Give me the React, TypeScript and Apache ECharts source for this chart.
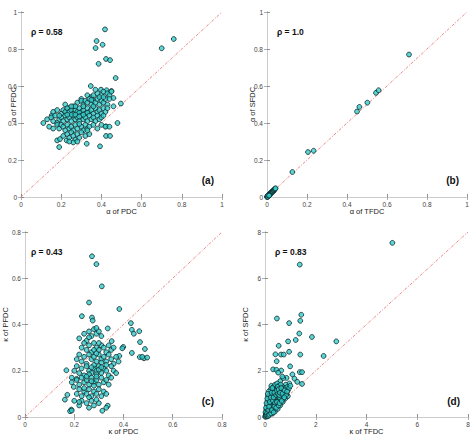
import React, { useEffect, useRef } from "react";
import * as echarts from "echarts";

const FONT = "'Liberation Sans', Arial, sans-serif";

// α of PDC vs α of PFDC
const alphaPdcPfdc: [number, number][] = [
  [0.418, 0.906], [0.376, 0.843], [0.371, 0.805], [0.406, 0.823], [0.386, 0.72], [0.423, 0.746],
  [0.443, 0.74], [0.76, 0.854], [0.7, 0.804], [0.471, 0.643], [0.347, 0.6], [0.497, 0.505],
  [0.48, 0.4], [0.423, 0.382], [0.423, 0.33], [0.443, 0.33], [0.393, 0.274], [0.327, 0.288],
  [0.19, 0.27], [0.18, 0.306], [0.194, 0.313], [0.227, 0.306], [0.111, 0.4], [0.153, 0.441],
  [0.398, 0.58], [0.426, 0.577], [0.45, 0.573], [0.46, 0.49], [0.46, 0.535],
  [0.33, 0.55], [0.35, 0.54], [0.36, 0.55], [0.38, 0.56], [0.4, 0.55], [0.41, 0.57], [0.43, 0.56],
  [0.44, 0.55], [0.45, 0.57], [0.37, 0.58], [0.3, 0.53],
  [0.26, 0.49], [0.28, 0.51], [0.3, 0.52], [0.31, 0.5], [0.32, 0.52], [0.33, 0.51], [0.34, 0.53],
  [0.35, 0.5], [0.36, 0.52], [0.37, 0.51], [0.38, 0.53], [0.39, 0.5], [0.4, 0.52], [0.41, 0.51],
  [0.42, 0.53], [0.43, 0.5], [0.44, 0.53], [0.39, 0.54], [0.41, 0.54], [0.22, 0.5], [0.24, 0.48],
  [0.35, 0.525],
  [0.16, 0.46], [0.18, 0.47], [0.2, 0.45], [0.21, 0.47], [0.22, 0.46], [0.23, 0.48], [0.24, 0.46],
  [0.25, 0.47], [0.26, 0.45], [0.27, 0.47], [0.28, 0.46], [0.29, 0.48], [0.3, 0.46], [0.31, 0.47],
  [0.32, 0.45], [0.33, 0.48], [0.34, 0.46], [0.35, 0.47], [0.36, 0.45], [0.37, 0.48], [0.38, 0.46],
  [0.39, 0.47], [0.4, 0.45], [0.41, 0.48], [0.42, 0.46], [0.43, 0.48], [0.27, 0.49], [0.29, 0.455],
  [0.31, 0.49], [0.33, 0.455], [0.25, 0.49], [0.36, 0.49],
  [0.13, 0.42], [0.15, 0.43], [0.16, 0.41], [0.17, 0.44], [0.19, 0.42], [0.2, 0.43], [0.21, 0.41],
  [0.22, 0.44], [0.23, 0.42], [0.24, 0.43], [0.25, 0.41], [0.26, 0.44], [0.27, 0.42], [0.28, 0.43],
  [0.29, 0.41], [0.3, 0.44], [0.31, 0.42], [0.32, 0.43], [0.33, 0.41], [0.34, 0.44], [0.35, 0.42],
  [0.36, 0.43], [0.37, 0.41], [0.38, 0.44], [0.39, 0.42], [0.4, 0.43], [0.41, 0.44], [0.25, 0.445],
  [0.27, 0.445], [0.29, 0.435], [0.31, 0.445], [0.23, 0.445], [0.19, 0.44], [0.18, 0.4],
  [0.14, 0.38], [0.16, 0.37], [0.18, 0.39], [0.19, 0.37], [0.2, 0.39], [0.21, 0.38], [0.22, 0.36],
  [0.23, 0.39], [0.24, 0.37], [0.25, 0.38], [0.26, 0.36], [0.27, 0.39], [0.28, 0.37], [0.3, 0.38],
  [0.31, 0.36], [0.32, 0.39], [0.33, 0.37], [0.34, 0.38], [0.36, 0.39], [0.38, 0.37], [0.4, 0.39],
  [0.42, 0.38], [0.44, 0.38], [0.29, 0.395],
  [0.21, 0.33], [0.23, 0.34], [0.24, 0.32], [0.25, 0.35], [0.26, 0.33], [0.27, 0.31], [0.28, 0.34],
  [0.29, 0.32], [0.3, 0.35], [0.32, 0.33], [0.34, 0.34], [0.33, 0.36], [0.26, 0.295], [0.28, 0.3],
  [0.24, 0.3],
];

// α of TFDC vs α of SFDC
const alphaTfdcSfdc: [number, number][] = [
  [0.71, 0.77], [0.545, 0.563], [0.558, 0.577], [0.502, 0.51], [0.462, 0.487], [0.45, 0.462],
  [0.233, 0.25], [0.205, 0.243], [0.127, 0.135],
  [0.0, 0.0], [0.003, 0.002], [0.005, 0.006], [0.007, 0.005], [0.008, 0.01], [0.01, 0.012],
  [0.012, 0.011], [0.013, 0.016], [0.015, 0.014], [0.016, 0.019], [0.018, 0.017], [0.019, 0.022],
  [0.02, 0.021], [0.022, 0.025], [0.023, 0.024], [0.025, 0.028], [0.026, 0.027], [0.028, 0.031],
  [0.03, 0.033], [0.031, 0.03], [0.033, 0.036], [0.035, 0.038], [0.037, 0.04], [0.039, 0.042],
  [0.041, 0.045], [0.043, 0.047], [0.001, 0.004], [0.004, 0.001], [0.006, 0.009], [0.011, 0.008],
];

// κ of PDC vs κ of PFDC
const kappaPdcPfdc: [number, number][] = [
  [0.272, 0.695], [0.29, 0.661], [0.312, 0.565], [0.26, 0.495], [0.383, 0.467], [0.231, 0.436],
  [0.272, 0.43], [0.275, 0.417], [0.336, 0.383], [0.43, 0.406], [0.434, 0.377], [0.442, 0.36],
  [0.464, 0.371], [0.467, 0.324], [0.487, 0.294], [0.466, 0.259], [0.483, 0.254], [0.496, 0.257],
  [0.476, 0.26], [0.434, 0.277], [0.399, 0.303], [0.395, 0.297], [0.383, 0.264], [0.352, 0.328],
  [0.168, 0.202], [0.172, 0.096], [0.162, 0.075], [0.188, 0.032], [0.183, 0.025], [0.19, 0.028],
  [0.314, 0.027], [0.336, 0.049], [0.33, 0.04], [0.198, 0.13], [0.21, 0.165], [0.19, 0.17],
  [0.22, 0.34], [0.24, 0.36], [0.25, 0.33], [0.26, 0.37], [0.27, 0.35], [0.28, 0.38], [0.29, 0.36],
  [0.3, 0.37], [0.31, 0.35], [0.29, 0.385], [0.26, 0.345], [0.24, 0.32],
  [0.23, 0.3], [0.25, 0.29], [0.26, 0.31], [0.27, 0.28], [0.28, 0.32], [0.29, 0.3], [0.3, 0.29],
  [0.31, 0.31], [0.32, 0.3], [0.33, 0.28], [0.34, 0.31], [0.35, 0.29], [0.3, 0.32], [0.28, 0.29],
  [0.36, 0.3],
  [0.21, 0.25], [0.22, 0.27], [0.23, 0.24], [0.24, 0.26], [0.25, 0.23], [0.26, 0.27], [0.27, 0.25],
  [0.28, 0.26], [0.29, 0.24], [0.3, 0.27], [0.31, 0.25], [0.32, 0.26], [0.33, 0.24], [0.34, 0.27],
  [0.35, 0.25], [0.36, 0.23], [0.38, 0.24], [0.37, 0.26], [0.29, 0.275], [0.31, 0.235],
  [0.2, 0.2], [0.21, 0.22], [0.22, 0.19], [0.23, 0.21], [0.24, 0.18], [0.25, 0.22], [0.26, 0.2],
  [0.27, 0.19], [0.28, 0.21], [0.29, 0.2], [0.3, 0.22], [0.31, 0.19], [0.32, 0.21], [0.33, 0.2],
  [0.34, 0.18], [0.35, 0.22], [0.36, 0.2], [0.37, 0.19], [0.28, 0.225], [0.3, 0.205], [0.29, 0.185],
  [0.27, 0.215], [0.31, 0.215], [0.26, 0.185], [0.33, 0.225],
  [0.19, 0.15], [0.21, 0.16], [0.22, 0.14], [0.23, 0.17], [0.24, 0.15], [0.25, 0.16], [0.26, 0.14],
  [0.27, 0.17], [0.28, 0.15], [0.29, 0.16], [0.3, 0.14], [0.31, 0.17], [0.32, 0.15], [0.33, 0.16],
  [0.34, 0.14], [0.27, 0.155], [0.29, 0.175], [0.25, 0.175], [0.28, 0.135], [0.35, 0.17],
  [0.21, 0.1], [0.22, 0.12], [0.23, 0.09], [0.24, 0.11], [0.25, 0.1], [0.26, 0.12], [0.27, 0.09],
  [0.28, 0.11], [0.29, 0.1], [0.3, 0.12], [0.31, 0.09], [0.32, 0.11], [0.33, 0.1], [0.26, 0.085],
  [0.24, 0.125],
  [0.2, 0.07], [0.22, 0.05], [0.23, 0.07], [0.25, 0.06], [0.26, 0.04], [0.27, 0.07], [0.28, 0.05],
  [0.3, 0.06], [0.22, 0.065], [0.29, 0.075],
];

// κ of TFDC vs κ of SFDC
const kappaTfdcSfdc: [number, number][] = [
  [5.02, 7.53], [1.37, 6.59], [1.43, 4.42], [1.39, 4.16], [0.47, 4.26], [0.95, 4.06], [1.35, 3.61],
  [0.54, 3.08], [0.91, 3.27], [1.21, 3.33], [1.85, 3.46], [2.81, 3.27], [0.41, 2.71], [0.63, 2.7],
  [0.74, 2.7], [0.95, 2.82], [1.39, 2.7], [2.31, 2.64], [0.46, 2.41], [0.99, 2.19], [0.32, 2.06],
  [0.45, 2.04], [0.64, 2.01], [1.37, 1.94], [1.46, 1.94], [0.52, 1.92], [1.08, 1.84], [0.85, 1.69],
  [0.72, 1.68], [1.16, 1.66], [1.27, 1.52], [1.46, 1.43], [0.96, 1.45], [0.82, 1.4], [0.6, 1.55],
  [0.68, 1.75],
  [0.02, 0.05], [0.05, 0.1], [0.08, 0.02], [0.1, 0.15], [0.12, 0.08], [0.15, 0.25], [0.18, 0.12],
  [0.2, 0.3], [0.22, 0.18], [0.25, 0.4], [0.28, 0.22], [0.3, 0.5], [0.32, 0.3], [0.35, 0.6],
  [0.38, 0.35], [0.4, 0.7], [0.42, 0.45], [0.45, 0.8], [0.48, 0.5], [0.5, 0.9], [0.52, 0.6],
  [0.55, 1.0], [0.58, 0.7], [0.6, 1.1], [0.62, 0.75], [0.65, 1.2], [0.68, 0.85], [0.7, 1.3],
  [0.72, 0.9], [0.75, 1.0], [0.78, 0.95], [0.8, 1.1], [0.85, 1.0], [0.9, 1.15], [0.12, 0.4],
  [0.15, 0.6], [0.18, 0.8], [0.2, 1.0], [0.22, 1.2], [0.25, 1.35], [0.28, 0.9], [0.3, 1.1],
  [0.33, 1.3], [0.35, 0.95], [0.38, 1.2], [0.4, 1.4], [0.42, 1.05], [0.45, 1.25], [0.48, 1.45],
  [0.5, 1.15], [0.55, 1.35], [0.58, 1.25], [0.62, 1.4], [0.05, 0.3], [0.08, 0.5], [0.1, 0.7],
  [0.12, 0.9], [0.15, 1.1], [0.18, 0.55], [0.22, 0.65], [0.25, 0.75], [0.28, 0.6], [0.32, 0.8],
  [0.35, 0.4], [0.38, 0.7], [0.42, 0.85], [0.45, 0.6], [0.48, 0.75], [0.52, 0.85], [0.55, 0.7],
  [0.6, 0.95], [0.65, 0.9], [0.1, 0.25], [0.05, 0.18], [0.03, 0.12], [0.07, 0.35], [0.14, 0.2],
  [0.17, 0.35], [0.2, 0.45], [0.24, 0.55], [0.27, 0.45], [0.3, 0.35], [0.33, 0.65], [0.36, 0.5],
  [0.4, 0.55], [0.43, 0.65], [0.46, 1.0], [0.5, 1.3], [0.53, 1.1], [0.57, 0.85], [0.63, 1.05],
  [0.67, 1.1], [0.7, 1.05], [0.74, 1.2], [0.8, 1.25], [0.88, 1.3], [0.95, 1.25], [1.0, 1.35],
  [0.3, 0.15], [0.4, 0.25], [0.5, 0.35], [0.6, 0.5], [0.7, 0.65], [0.8, 0.8], [0.9, 0.9],
  [0.02, 0.2], [0.04, 0.4], [0.06, 0.6], [0.09, 0.8], [0.11, 1.0], [0.01, 0.01], [0.03, 0.03],
  [0.06, 0.07], [0.08, 0.1], [0.11, 0.12], [0.13, 0.15], [0.16, 0.18], [0.19, 0.22], [0.21, 0.25],
  [0.23, 0.28], [0.04, 0.08], [0.07, 0.14], [0.09, 0.05], [0.13, 0.3], [0.16, 0.45], [0.19, 0.65],
  [0.23, 0.85], [0.26, 1.05], [0.29, 1.25], [0.31, 0.7], [0.34, 0.85], [0.37, 1.05], [0.39, 0.6],
  [0.44, 0.95], [0.47, 1.15], [0.51, 1.0], [0.54, 1.2], [0.56, 0.95], [0.59, 1.05], [0.64, 1.25],
  [0.69, 1.0], [0.73, 0.8], [0.77, 1.15], [0.83, 0.95], [0.87, 1.1], [0.14, 0.05], [0.17, 0.1],
  [0.24, 0.15], [0.27, 0.3], [0.34, 0.2], [0.37, 0.45], [0.44, 0.4], [0.47, 0.65], [0.54, 0.5],
  [0.57, 0.6], [0.66, 0.7], [0.76, 0.85],
];

const rhoLabels = ["ρ = 0.58", "ρ = 1.0", "ρ = 0.43", "ρ = 0.83"];
const panelTags = ["(a)", "(b)", "(c)", "(d)"];
const xNames = ["α of PDC", "α of TFDC", "κ of PDC", "κ of TFDC"];
const yNames = ["α of PFDC", "α of SFDC", "κ of PFDC", "κ of SFDC"];
const axisMax = [1, 1, 0.8, 8];
const axisStep = [0.2, 0.2, 0.2, 2];
const panelData = [alphaPdcPfdc, alphaTfdcSfdc, kappaPdcPfdc, kappaTfdcSfdc];

// plot frames in pixels
const frames = [
  { left: 21, top: 12, width: 201, height: 185, yGap: 4 },
  { left: 267, top: 12, width: 200, height: 185, yGap: 11 },
  { left: 21, top: 232, width: 201, height: 186, yGap: 16 },
  { left: 265, top: 232, width: 203, height: 186, yGap: 16 },
];

const tickLabel = { fontSize: 6.5, color: "#444", fontFamily: FONT, margin: 4 };

export default function App() {
  const ref = useRef<HTMLDivElement>(null);

  useEffect(() => {
    if (!ref.current) return;
    const chart = echarts.init(ref.current, undefined, { renderer: "svg" });

    const grid: any[] = [];
    const xAxis: any[] = [];
    const yAxis: any[] = [];
    const series: any[] = [];
    const graphic: any[] = [];

    frames.forEach((f, i) => {
      grid.push({ left: f.left, top: f.top, width: f.width, height: f.height, show: false });
      const base = {
        type: "value",
        min: 0,
        max: axisMax[i],
        interval: axisStep[i],
        gridIndex: i,
        splitLine: { show: false },
        axisTick: { inside: true, length: 3, lineStyle: { color: "#777", width: 0.8 } },
      };
      xAxis.push({
        ...base,
        position: "bottom",
        axisLine: { lineStyle: { color: "#888", width: 1 } },
        axisLabel: tickLabel,
        name: xNames[i],
        nameLocation: "middle",
        nameGap: 10,
        nameMoveOverlap: false,
        nameTextStyle: { fontSize: 7.5, color: "#222", fontFamily: FONT },
      });
      xAxis.push({
        ...base,
        position: "top",
        axisLine: { lineStyle: { color: "#ccc", width: 1 } },
        axisTick: { inside: true, length: 3, lineStyle: { color: "#999", width: 0.8 } },
        axisLabel: { show: false },
      });
      yAxis.push({
        ...base,
        position: "left",
        axisLine: { lineStyle: { color: "#888", width: 1 } },
        axisLabel: tickLabel,
        name: yNames[i],
        nameLocation: "middle",
        nameGap: f.yGap,
        nameMoveOverlap: false,
        nameTextStyle: { fontSize: 7.5, color: "#222", fontFamily: FONT },
      });
      yAxis.push({
        ...base,
        position: "right",
        axisLine: { lineStyle: { color: "#ccc", width: 1 } },
        axisTick: { inside: true, length: 3, lineStyle: { color: "#999", width: 0.8 } },
        axisLabel: { show: false },
      });

      series.push({
        type: "line",
        xAxisIndex: 2 * i,
        yAxisIndex: 2 * i,
        data: [
          [0, 0],
          [axisMax[i], axisMax[i]],
        ],
        symbol: "none",
        silent: true,
        z: 1,
        lineStyle: { color: "#e86a6a", width: 0.8, type: [3, 1.5, 1, 1.5] },
      });
      series.push({
        type: "scatter",
        xAxisIndex: 2 * i,
        yAxisIndex: 2 * i,
        data: panelData[i],
        symbolSize: 4.8,
        z: 2,
        itemStyle: { color: "#33cccc", borderColor: "#0e2626", borderWidth: 1 },
      });

      graphic.push({
        type: "text",
        x: f.left + 10,
        y: f.top + 20,
        style: {
          text: rhoLabels[i],
          font: `bold 8.5px ${FONT}`,
          fill: "#111",
          textAlign: "left",
          textVerticalAlign: "middle",
        },
      });
      graphic.push({
        type: "text",
        x: f.left + f.width - 8,
        y: f.top + f.height - 17,
        style: {
          text: panelTags[i],
          font: `bold 10px ${FONT}`,
          fill: "#111",
          textAlign: "right",
          textVerticalAlign: "middle",
        },
      });
    });

    chart.setOption({
      animation: false,
      backgroundColor: "#fff",
      grid,
      xAxis,
      yAxis,
      series,
      graphic,
    });

    return () => chart.dispose();
  }, []);

  return (
    <div
      ref={ref}
      style={{ position: "fixed", left: 0, top: 0, width: 475, height: 436, background: "#fff" }}
    />
  );
}
